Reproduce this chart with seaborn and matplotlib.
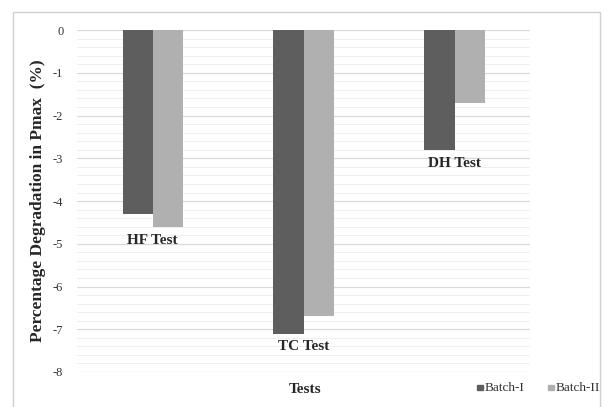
import matplotlib
matplotlib.use("Agg")
import matplotlib.pyplot as plt
import numpy as np
import pandas as pd
import seaborn as sns
from matplotlib.patches import Rectangle
from matplotlib.ticker import MultipleLocator

tests = ["HF Test", "TC Test", "DH Test"]
batch_1 = [-4.3, -7.1, -2.8]
batch_2 = [-4.6, -6.7, -1.7]
series = ["Batch-I", "Batch-II"]
colors = ["#5e5e5e", "#b0b0b0"]

df = pd.DataFrame({
    "test": tests * 2,
    "value": batch_1 + batch_2,
    "batch": [series[0]] * 3 + [series[1]] * 3,
})

sns.set_style("white")
plt.rcParams["font.family"] = ["Liberation Serif", "DejaVu Serif"]

fig = plt.figure(figsize=(6.08, 4.07), dpi=100)
ax = fig.add_axes([0.127, 0.086, 0.745, 0.84])

sns.barplot(data=df, x="test", y="value", hue="batch", palette=colors,
            width=0.4, gap=0, ax=ax, legend=False, zorder=3, linewidth=0)

ax.set_ylim(-8, 0)
ax.set_xlim(-0.5, 2.5)
ax.yaxis.set_major_locator(MultipleLocator(1))
ax.yaxis.set_minor_locator(MultipleLocator(0.2))
ax.grid(axis="y", which="major", color="#d9d9d9", linewidth=0.9, zorder=0)
ax.grid(axis="y", which="minor", color="#efefef", linewidth=0.8, zorder=0)
ax.set_axisbelow(True)
for s in ax.spines.values():
    s.set_visible(False)
ax.set_xticks([])
ax.tick_params(axis="y", which="both", length=0, labelsize=9, colors="#333333", pad=10)
ax.set_yticks(range(-8, 1))
ax.set_yticklabels([str(v) for v in range(-8, 1)])

ax.set_xlabel("")
ax.set_ylabel("Percentage Degradation in Pmax  (%)", fontsize=12.5, fontweight="bold")
ax.yaxis.set_label_coords(-0.07, 0.5)

# category labels under each group
for i, name in enumerate(tests):
    low = min(batch_1[i], batch_2[i])
    ax.text(i, low - 0.16, name, ha="center", va="top",
            fontsize=11, fontweight="bold", zorder=4)

fig.text(0.502, 0.042, "Tests", ha="center", va="center", fontsize=11, fontweight="bold")

# legend
for x, lab, c in [(0.801, series[0], colors[0]), (0.918, series[1], colors[1])]:
    fig.patches.append(Rectangle((x - 0.016, 0.041), 0.009, 0.013,
                                 transform=fig.transFigure, color=c))
    fig.text(x - 0.004, 0.047, lab, ha="left", va="center", fontsize=9.5, color="#333333")

# outer frame
fig.patches.append(Rectangle((0.022, -0.01), 0.965, 0.98, transform=fig.transFigure,
                             fill=False, edgecolor="#d0d0d0", linewidth=1))

fig.savefig("out.png", dpi=100)
print("saved out.png")
